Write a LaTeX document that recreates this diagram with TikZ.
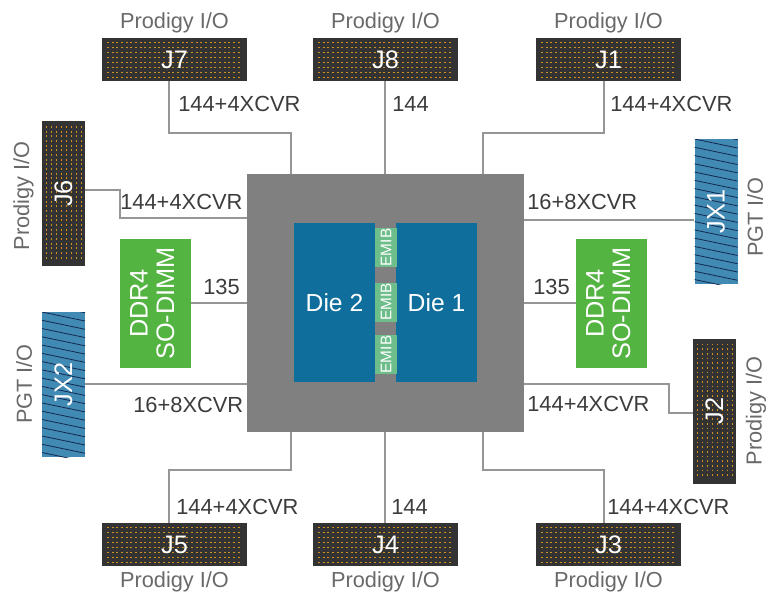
\documentclass[tikz,border=0pt]{standalone}
\usepackage{fontspec}
\setmainfont{Liberation Sans}
\definecolor{connc}{RGB}{150,150,150}
\definecolor{subc}{RGB}{128,128,128}
\definecolor{diec}{RGB}{15,110,155}
\definecolor{emibc}{RGB}{110,190,140}
\definecolor{ddrc}{RGB}{84,180,66}
\definecolor{jxc}{RGB}{65,138,180}
\definecolor{hatchc}{RGB}{20,40,80}
\definecolor{darkc}{RGB}{51,51,51}
\definecolor{dotc}{RGB}{210,145,30}
\definecolor{labc}{RGB}{60,60,60}
\definecolor{plabc}{RGB}{105,105,105}
\begin{document}
\begin{tikzpicture}[x=0.75pt,y=-0.75pt,
 conn/.style={draw=connc,line width=2.1pt},
 dotline/.style={draw=dotc,line width=0.6pt,dash pattern=on 1.4pt off 2.1pt},
 hatchline/.style={draw=hatchc,line width=0.6pt},
 hjbox/.style={fill=darkc,inner sep=0pt,minimum width=108.75pt,minimum height=32.25pt,text=white,font=\fontsize{19}{21}\selectfont,
   path picture={\foreach \k in {0,...,7}{\draw[dotline] ([xshift=3.75pt,yshift=-3.4pt-3.75pt*\k]path picture bounding box.north west) -- ([xshift=-3.75pt,yshift=-3.4pt-3.75pt*\k]path picture bounding box.north east);}}},
 vjbox/.style={fill=darkc,inner sep=0pt,minimum width=32.25pt,minimum height=108.75pt,text=white,font=\fontsize{19}{21}\selectfont,
   path picture={\foreach \k in {0,...,7}{\draw[dotline] ([xshift=3.4pt+3.75pt*\k,yshift=-3.75pt]path picture bounding box.north west) -- ([xshift=3.4pt+3.75pt*\k,yshift=3.75pt]path picture bounding box.south west);}}},
 jxbox/.style={fill=jxc,inner sep=0pt,minimum width=32.25pt,minimum height=108.75pt,text=white,font=\fontsize{19}{21}\selectfont,
   path picture={\foreach \k in {-2,...,19}{\draw[hatchline] ([yshift=-6.2pt*\k]path picture bounding box.north west) -- ([yshift=-6.2pt*\k-6.75pt]path picture bounding box.north east);}}},
 diebox/.style={fill=diec,inner sep=0pt,minimum width=60.75pt,minimum height=119.25pt,text=white,font=\fontsize{18.5}{20}\selectfont},
 emibbox/.style={fill=emibc,inner sep=0pt,minimum width=16.5pt,minimum height=29.25pt,text=white,font=\fontsize{11.5}{12}\selectfont},
 ddrbox/.style={fill=ddrc,inner sep=0pt,minimum width=53.25pt,minimum height=96.75pt,text=white,font=\fontsize{19}{20}\selectfont},
 lab/.style={inner sep=0pt,text=labc,font=\fontsize{16.4}{18}\selectfont},
 plab/.style={inner sep=0pt,text=plabc,font=\fontsize{16.3}{18}\selectfont}
]
\useasboundingbox (0,0) rectangle (766,592);
% substrate
\node[fill=subc,inner sep=0pt,minimum width=207.75pt,minimum height=193.5pt] (sub) at (385.5,303) {};
% connector boxes
\node[hjbox] (J7) at (174.5,59.5) {J7};
\node[hjbox] (J8) at (385.5,59.5) {J8};
\node[hjbox] (J1) at (608.5,59.5) {J1};
\node[hjbox] (J5) at (174.5,544.5) {J5};
\node[hjbox] (J4) at (385.5,544.5) {J4};
\node[hjbox] (J3) at (608.5,544.5) {J3};
\node[vjbox] (J6) at (63.5,193.5) {\rotatebox{90}{J6}};
\node[vjbox] (J2) at (714.5,411) {\rotatebox{90}{J2}};
\node[jxbox] (JX2) at (63.5,384.5) {\rotatebox{90}{JX2}};
\node[jxbox] (JX1) at (716,211.5) {\rotatebox{90}{JX1}};
\node[ddrbox] (ddrL) at (155.5,303.5) {\rotatebox{90}{\begin{tabular}{@{}c@{}}DDR4\\SO-DIMM\end{tabular}}};
\node[ddrbox] (ddrR) at (611.5,303.5) {\rotatebox{90}{\begin{tabular}{@{}c@{}}DDR4\\SO-DIMM\end{tabular}}};
% dies
\node[diebox] (die2) at (334.5,302.5) {Die 2};
\node[diebox] (die1) at (436.5,302.5) {Die 1};
\node[emibbox] (e1) at (386,247.5) {\rotatebox{90}{EMIB}};
\node[emibbox] (e2) at (386,302) {\rotatebox{90}{EMIB}};
\node[emibbox] (e3) at (386,354.5) {\rotatebox{90}{EMIB}};
% connectors
\draw[conn] (J7.south -| 169,0) |- (291,133) -- (291,0 |- sub.north);
\draw[conn] (J8.south -| 385,0) -- (385,0 |- sub.north);
\draw[conn] (J1.south -| 604,0) |- (483,133) -- (483,0 |- sub.north);
\draw[conn] (J5.north -| 169,0) |- (291,470) -- (291,0 |- sub.south);
\draw[conn] (J4.north -| 385,0) -- (385,0 |- sub.south);
\draw[conn] (J3.north -| 604,0) |- (483,470) -- (483,0 |- sub.south);
\draw[conn] (J6.east |- 0,190) -| (120,218) -- (sub.west |- 0,218);
\draw[conn] (JX2.east |- 0,384) -- (sub.west |- 0,384);
\draw[conn] (ddrL.east |- 0,303) -- (sub.west |- 0,303);
\draw[conn] (sub.east |- 0,303) -- (ddrR.west |- 0,303);
\draw[conn] (sub.east |- 0,220) -- (JX1.west |- 0,220);
\draw[conn] (sub.east |- 0,384) -| (669,413) -- (J2.west |- 0,413);
% labels
\node[lab,anchor=west] (t7) at (178,104) {144+4XCVR};
\node[lab,anchor=west] (t8) at (392,104) {144};
\node[lab,anchor=west] (t1) at (610,104) {144+4XCVR};
\node[lab,anchor=west] (t5) at (176,507) {144+4XCVR};
\node[lab,anchor=west] (t4) at (391,507) {144};
\node[lab,anchor=west] (t3) at (607,507) {144+4XCVR};
\node[lab,anchor=west] (t6) at (120,202) {144+4XCVR};
\node[lab,anchor=west] (tL) at (203,287) {135};
\node[lab,anchor=west] (tx2) at (133,405) {16+8XCVR};
\node[lab,anchor=west] (tx1) at (527,202) {16+8XCVR};
\node[lab,anchor=west] (tR) at (533,287) {135};
\node[lab,anchor=west] (t2) at (527,404) {144+4XCVR};
% Prodigy / PGT labels
\node[plab] (p7) at (174.5,23) {Prodigy I/O};
\node[plab] (p8) at (385.5,23) {Prodigy I/O};
\node[plab] (p1) at (608.5,23) {Prodigy I/O};
\node[plab] (p5) at (174.5,582) {Prodigy I/O};
\node[plab] (p4) at (385.5,582) {Prodigy I/O};
\node[plab] (p3) at (608.5,582) {Prodigy I/O};
\node[plab] (p6) at (23.5,196) {\rotatebox{90}{Prodigy I/O}};
\node[plab] (px2) at (24,384) {\rotatebox{90}{PGT I/O}};
\node[plab] (px1) at (755,217) {\rotatebox{90}{PGT I/O}};
\node[plab] (p2) at (756,411) {\rotatebox{90}{Prodigy I/O}};
\end{tikzpicture}
\end{document}
